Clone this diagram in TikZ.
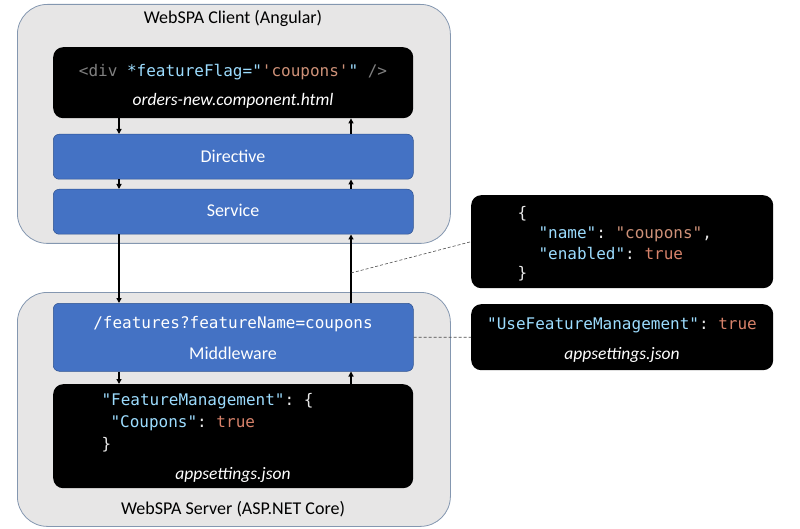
\documentclass[tikz,border=0pt]{standalone}
\usepackage{fontspec}
\setmainfont{Carlito}
\setmonofont{DejaVu Sans Mono}
\usetikzlibrary{arrows.meta}

\definecolor{tierfill}{HTML}{E7E6E6}
\definecolor{tierline}{HTML}{8497B0}
\definecolor{layerblue}{HTML}{4472C4}
\definecolor{layerline}{HTML}{2F528F}
\definecolor{codekey}{HTML}{9CDCFE}
\definecolor{codestr}{HTML}{CE9178}
\definecolor{codebool}{HTML}{D7826A}
\definecolor{codetag}{HTML}{808080}
\definecolor{codetxt}{HTML}{E8E8E8}

\newcommand\keytxt[1]{\textcolor{codekey}{#1}}
\newcommand\strtxt[1]{\textcolor{codestr}{#1}}
\newcommand\booltxt[1]{\textcolor{codebool}{#1}}
\newcommand\tagtxt[1]{\textcolor{codetag}{#1}}

\begin{document}
\begin{tikzpicture}[x=1pt,y=-1pt,
	tier/.style={draw=tierline,fill=tierfill,line width=0.8pt,rounded corners=30pt,anchor=north west,inner sep=0pt,minimum width=433pt},
	layer/.style={draw=layerline,fill=layerblue,line width=0.5pt,rounded corners=6pt,anchor=north west,inner sep=0pt,minimum width=360pt},
	codebox/.style={fill=black,rounded corners=10pt,anchor=north west,inner sep=0pt},
	title/.style={anchor=base,font=\fontsize{18}{21}\selectfont,text=black},
	label/.style={anchor=base,font=\fontsize{18}{21}\selectfont,text=white},
	fname/.style={anchor=base,font=\fontsize{17.5}{21}\selectfont\itshape,text=white},
	code/.style={anchor=base west,font=\fontsize{16}{19}\ttfamily,text=codetxt},
	ccode/.style={code,anchor=base},
	arr/.style={-{Triangle[length=5pt,width=5pt]},line width=1.2pt},
	hint/.style={draw=black!70,line width=0.6pt,dash pattern=on 3pt off 2pt}]
	\useasboundingbox (0,0) rectangle (800,529);

	% the two tiers
	\node[tier,minimum height=239pt] (cli) at (17,4) {};
	\node[tier,minimum height=234pt] (srv) at (17,292) {};
	\node[title] (clit) at (233,24) {WebSPA Client (Angular)};
	\node[title] (srvt) at (233,514) {WebSPA Server (ASP.NET Core)};

	% client side
	\node[codebox,minimum width=360pt,minimum height=71pt] (htm) at (53,47) {};
	\node[ccode] (htmc) at (233,77) {\tagtxt{<div} \keytxt{*featureFlag="}\strtxt{'coupons'}\keytxt{"} \tagtxt{/>}};
	\node[fname] (htmf) at (233,106) {orders-new.component.html};
	\node[layer,minimum height=45pt] (dir) at (53,134) {};
	\node[label] (dirt) at (233,163) {Directive};
	\node[layer,minimum height=45pt] (svc) at (53,189) {};
	\node[label] (svct) at (233,217) {Service};

	% server side
	\node[layer,minimum height=68pt] (mid) at (53,303) {};
	\node[ccode,text=white] (midc) at (233,328) {/features?featureName=coupons};
	\node[label] (midt) at (233,359) {Middleware};
	\node[codebox,minimum width=360pt,minimum height=104pt] (cfg) at (53,384) {};
	\node[code] (cfg1) at (98,405) {\keytxt{"FeatureManagement"}: \{};
	\node[code] (cfg2) at (107,427) {\keytxt{"Coupons"}: \booltxt{true}};
	\node[code] (cfg3) at (98,449) {\}};
	\node[fname] (cfgf) at (233,479) {appsettings.json};

	% callouts
	\node[codebox,minimum width=302pt,minimum height=93pt] (jsn) at (471,195) {};
	\node[code] (jsn1) at (514,219) {\{};
	\node[code] (jsn2) at (535,239) {\keytxt{"name"}: \strtxt{"coupons"},};
	\node[code] (jsn3) at (535,259) {\keytxt{"enabled"}: \booltxt{true}};
	\node[code] (jsn4) at (514,279) {\}};
	\node[codebox,minimum width=302pt,minimum height=66pt] (use) at (471,304) {};
	\node[ccode] (usec) at (622,329) {\keytxt{"UseFeatureManagement"}: \booltxt{true}};
	\node[fname] (usef) at (622,359) {appsettings.json};

	% request / response
	\coordinate (lx) at (119,0);
	\coordinate (rx) at (351,0);
	\draw[arr] (htm.south -| lx) -- (dir.north -| lx);
	\draw[arr] (dir.north -| rx) -- (htm.south -| rx);
	\draw[arr] (dir.south -| lx) -- (svc.north -| lx);
	\draw[arr] (svc.north -| rx) -- (dir.south -| rx);
	\draw[arr] (svc.south -| lx) -- (mid.north -| lx);
	\draw[arr] (mid.north -| rx) -- (svc.south -| rx);
	\draw[arr] (mid.south -| lx) -- (cfg.north -| lx);
	\draw[arr] (cfg.north -| rx) -- (mid.south -| rx);

	\coordinate (tap) at (351,273);
	\draw[hint] (tap) -- (jsn.west);
	\draw[hint] (mid.east) -- (use.west);
\end{tikzpicture}
\end{document}
